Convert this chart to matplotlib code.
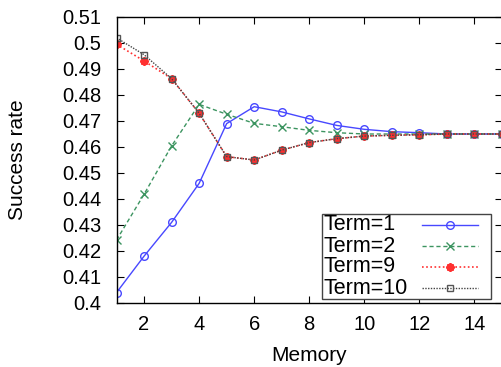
import numpy as np
import matplotlib.pyplot as plt
from matplotlib.lines import Line2D
from matplotlib.patches import Rectangle
from matplotlib.ticker import MultipleLocator, FuncFormatter

plt.rcParams.update({
    "font.family": ["Liberation Sans", "DejaVu Sans"],
    "font.size": 14,
})

# Data
memory = [1, 2, 3, 4, 5, 6, 7, 8, 9, 10, 11, 12, 13, 14, 15]
term1 = [0.404, 0.418, 0.431, 0.446, 0.469, 0.4755, 0.4735, 0.4708, 0.4683,
         0.4668, 0.4659, 0.4655, 0.465, 0.465, 0.465]
term2 = [0.4242, 0.4418, 0.4604, 0.4764, 0.4726, 0.4691, 0.4678, 0.4664, 0.4655,
         0.465, 0.465, 0.465, 0.465, 0.465, 0.465]
term9 = [0.4995, 0.4931, 0.4863, 0.473, 0.4563, 0.455, 0.4588, 0.4617, 0.4632,
         0.4642, 0.4645, 0.4647, 0.465, 0.465, 0.465]
term10 = [0.502, 0.4955, 0.4863, 0.473, 0.4563, 0.455, 0.4588, 0.4617, 0.4632,
          0.4642, 0.4645, 0.4647, 0.465, 0.465, 0.465]
labels = ["Term=1", "Term=2", "Term=9", "Term=10"]

W, H = 501, 367
fig = plt.figure(figsize=(W / 100, H / 100), dpi=100)
ax = fig.add_axes([116.5 / W, (H - 303) / H, (502 - 116.5) / W, (303 - 17) / H])

asterisk = (8, 2, 0)
styles = [
    dict(color="#4848ff", lw=1.0, ls="-", marker="o", ms=5.5, mfc="none", mec="#4848ff", mew=1.0),
    dict(color="#3c9460", lw=1.0, ls=(0, (3, 2)), marker="x", ms=5.5, mew=1.0),
    dict(color="#ff3030", lw=1.2, ls=(0, (1, 1.5)), marker=asterisk, ms=6, mew=1.5),
    dict(color="#444444", lw=1.0, ls=(0, (1, 1)), marker="s", ms=5, mfc="none", mec="#555555", mew=1.0),
]
for series, st in zip([term1, term2, term9, term10], styles):
    ax.plot(memory, series, **st)

ax.set_xlim(1, 15)
ax.set_ylim(0.4, 0.51)
ax.xaxis.set_major_locator(MultipleLocator(2))
ax.yaxis.set_major_locator(MultipleLocator(0.01))
ax.yaxis.set_major_formatter(FuncFormatter(lambda v, p: f"{v:.2f}".rstrip("0").rstrip(".")))
ax.tick_params(direction="in", length=5, width=0.8, top=True, right=True, labelsize=14.5)
ax.tick_params(axis="y", pad=11)
ax.tick_params(axis="x", pad=9)
for s in ax.spines.values():
    s.set_linewidth(1.0)

ax.set_xlabel("Memory", fontsize=15, labelpad=8)
ax.set_ylabel("Success rate", fontsize=15, labelpad=25)

# gnuplot-style key: labels left, samples right (pixel positions)
def px(x, y):
    return x / W, (H - y) / H

x0, y0 = px(322, 299)
x1, y1 = px(491, 214)
fig.add_artist(Rectangle((x0, y0), x1 - x0, y1 - y0, transform=fig.transFigure,
                         facecolor="white", edgecolor="#444444", lw=1.0, zorder=5))
for i, (lab, st) in enumerate(zip(labels, styles)):
    yy = 225 + 21 * i
    tx, ty = px(324, yy)
    fig.text(tx, ty, lab, fontsize=15.5, ha="left", va="center", zorder=6)
    lx0, ly = px(422, yy)
    lx1, _ = px(478, yy)
    fig.add_artist(Line2D([lx0, (lx0 + lx1) / 2, lx1], [ly, ly, ly], transform=fig.transFigure,
                          markevery=[1], zorder=6, **st))

fig.savefig("out.png", dpi=100)
